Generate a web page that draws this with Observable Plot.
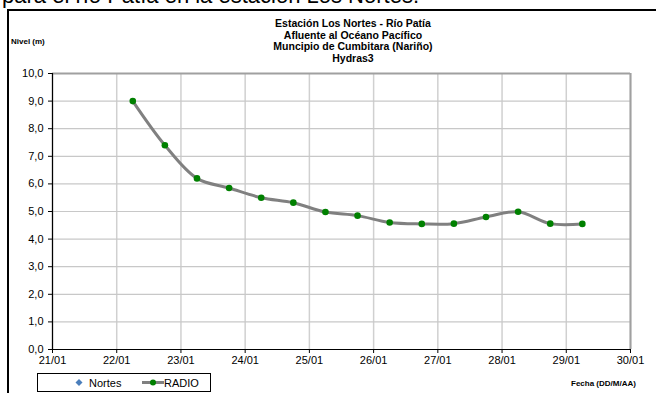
<!DOCTYPE html>
<html>
<head>
<meta charset="utf-8">
<script src="https://cdn.jsdelivr.net/npm/d3@7"></script>
<script src="https://cdn.jsdelivr.net/npm/@observablehq/plot@0.6"></script>
<style>
  html, body { margin: 0; padding: 0; background: #fff; }
  #wrap { position: relative; width: 656px; height: 393px; overflow: hidden; background: #fff;
          font-family: "Liberation Sans", Arial, sans-serif; color: #000; }
  .abs { position: absolute; white-space: nowrap; }
  #heading { left: 2px; top: -15px; font-size: 22px; line-height: 1; }
  #frame { left: 7px; top: 9px; width: 660px; height: 400px; border-left: 2px solid #000; border-top: 2px solid #000; }
  #title { left: 200px; width: 306px; top: 18px; text-align: center; font-weight: bold; font-size: 10.5px; line-height: 11.7px; }
  #ylab { left: 11px; top: 37px; font-weight: bold; font-size: 8px; }
  #xlab { left: 571px; top: 379px; font-weight: bold; font-size: 8px; }
  #legend { left: 37px; top: 373px; width: 172px; height: 17px; border: 1px solid #000; font-size: 11px; }
  svg { position: absolute; left: 0; top: 0; }
</style>
</head>
<body>
<div id="wrap">
  <div id="frame" class="abs"></div>
  <div id="heading" class="abs">para el río Patía en la estación Los Nortes.</div>
  <div id="title" class="abs"></div>
  <div id="ylab" class="abs"></div>
  <div id="xlab" class="abs"></div>
  <div id="legend" class="abs"></div>
</div>
<script>
// ---- data ----
const titulo = ["Estación Los Nortes  - Río Patía", "Afluente al Océano Pacífico", "Muncipio de Cumbitara (Nariño)", "Hydras3"];
const etiquetaY = "Nivel (m)";
const etiquetaX = "Fecha (DD/M/AA)";
const series = ["Nortes", "RADIO"];
const fechas = [
  "2010-01-22T06:00Z", "2010-01-22T18:00Z", "2010-01-23T06:00Z", "2010-01-23T18:00Z",
  "2010-01-24T06:00Z", "2010-01-24T18:00Z", "2010-01-25T06:00Z", "2010-01-25T18:00Z",
  "2010-01-26T06:00Z", "2010-01-26T18:00Z", "2010-01-27T06:00Z", "2010-01-27T18:00Z",
  "2010-01-28T06:00Z", "2010-01-28T18:00Z", "2010-01-29T06:00Z"
];
const radio = [9.0, 7.4, 6.2, 5.85, 5.5, 5.32, 4.98, 4.85, 4.6, 4.55, 4.56, 4.8, 4.99, 4.56, 4.55];
const nortes = []; // no values shown
const diasX = ["2010-01-21", "2010-01-22", "2010-01-23", "2010-01-24", "2010-01-25",
               "2010-01-26", "2010-01-27", "2010-01-28", "2010-01-29", "2010-01-30"];
const ticksY = [0, 1, 2, 3, 4, 5, 6, 7, 8, 9, 10];

// ---- build ----
const datos = fechas.map((f, i) => ({fecha: new Date(f), nivel: radio[i]}));
const dias = diasX.map(d => new Date(d + "T00:00Z"));
const x0 = dias[0], x1 = dias[dias.length - 1];
const fmtY = d => d.toFixed(1).replace(".", ",");

document.getElementById("title").innerHTML = titulo.join("<br>");
document.getElementById("ylab").textContent = etiquetaY;
document.getElementById("xlab").textContent = etiquetaX;

const chart = Plot.plot({
  width: 656,
  height: 393,
  marginLeft: 52,
  marginRight: 26,
  marginTop: 73,
  marginBottom: 44,
  style: {fontFamily: "'Liberation Sans', Arial, sans-serif", fontSize: "11px", color: "#000", background: "transparent"},
  x: {type: "utc", domain: [x0, x1]},
  y: {domain: [0, 10]},
  marks: [
    Plot.gridX(dias, {stroke: "#d0d0d0", strokeOpacity: 1, strokeWidth: 1.5}),
    Plot.gridY(ticksY, {stroke: "#c8c8c8", strokeOpacity: 1, strokeWidth: 1.2}),
    Plot.ruleY([10], {stroke: "#a0a0a0", strokeWidth: 2}),
    Plot.ruleX([x1], {stroke: "#a0a0a0", strokeWidth: 2}),
    Plot.axisY({ticks: ticksY, tickFormat: fmtY, tickSize: 4, tickPadding: 5, label: null, fontSize: 11}),
    Plot.axisX({ticks: dias, tickFormat: d3.utcFormat("%d/%m"), tickSize: 4, tickPadding: 3, label: null, fontSize: 11}),
    Plot.ruleY([0], {stroke: "#000", strokeWidth: 1.2}),
    Plot.ruleX([x0], {stroke: "#000", strokeWidth: 1.2}),
    Plot.line(datos, {x: "fecha", y: "nivel", stroke: "#808080", strokeWidth: 3, curve: "catmull-rom"}),
    Plot.dot(datos, {x: "fecha", y: "nivel", fill: "#008000", r: 3.3})
  ]
});
document.getElementById("wrap").appendChild(chart);

// legend
const leg = document.getElementById("legend");
leg.innerHTML =
  `<svg width="172" height="17" style="position:absolute;left:0;top:0">
     <path d="M41,5 L44.5,8.5 L41,12 L37.5,8.5 Z" fill="#4a7ebb"/>
     <text x="51" y="12.5" font-size="11" font-family="Liberation Sans, Arial, sans-serif">${series[0]}</text>
     <line x1="104" y1="8.5" x2="126" y2="8.5" stroke="#808080" stroke-width="3"/>
     <circle cx="115" cy="8.5" r="3" fill="#008000"/>
     <text x="126" y="12.5" font-size="11" font-family="Liberation Sans, Arial, sans-serif">${series[1]}</text>
   </svg>`;
</script>
</body>
</html>
